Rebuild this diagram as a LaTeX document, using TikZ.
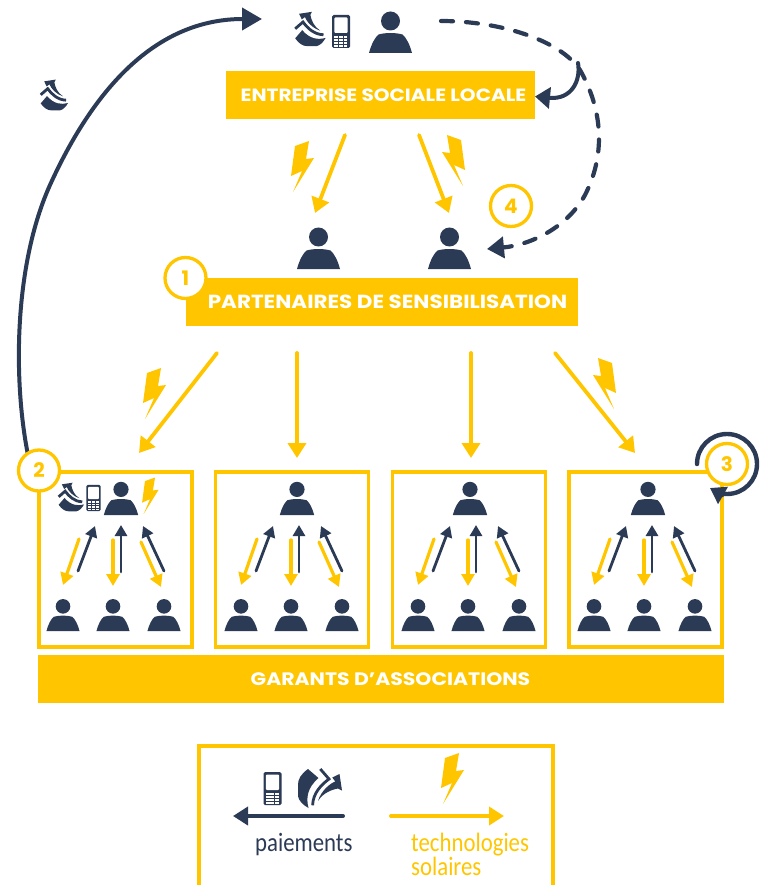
\documentclass[tikz,border=0pt]{standalone}
\usepackage{fontspec}
\setmainfont{Poppins}
\newfontfamily\legendfont[FakeStretch=0.86]{Carlito}
\newfontfamily\barfont[FakeStretch=1.135]{Poppins}
\usetikzlibrary{arrows.meta}
\definecolor{sun}{RGB}{255,198,0}
\definecolor{ink}{RGB}{43,58,85}
\tikzset{
  x=1pt,y=-1pt,
  personicon/.pic={
    \fill[ink] (0,-32) circle[radius=9.5];
    \fill[ink] (-21.5,0) .. controls (-19,-9) and (-16,-15) .. (-12,-18.5) .. controls (-5,-20.5) and (5,-20.5) .. (12,-18.5) .. controls (16,-15) and (19,-9) .. (21.5,0) -- cycle;
  },
  phoneicon/.pic={
    \fill[ink,rounded corners=1.5pt] (-9,-16.5) rectangle (9,16.5);
    \fill[white,rounded corners=1pt] (-6.7,-14) rectangle (6.7,1.5);
    \foreach \c in {-6.7,-2.1,2.5}{\foreach \r in {4.2,7.2,10.2,13.2}{
      \fill[white] (\c,\r) rectangle ++(3.9,1.9);}}
  },
  bolticon/.pic={
    \fill[sun] (7,-25) -- (-7,-20) -- (-11,10) -- (0,5) -- (-9,26) -- (12,-8) -- (4,-7) -- cycle;
  },
  moneyicon/.pic={
    \begin{scope}[shift={(-22,-20)}]
    \fill[ink] (10,1) .. controls (3,6) and (0,11) .. (0,16.7) -- (0,28.3) .. controls (1,33) and (5,37) .. (10.5,40) .. controls (8,30) and (9,20) .. (20.5,10) -- cycle;
    \draw[ink,line width=2.8pt] (14.6,37.3) .. controls (15,25) and (23.3,16.7) .. (31,11) -- (22.3,1);
    \fill[ink] (20,33) .. controls (23,23) and (31.7,15.5) .. (37.3,13.5) -- (34.3,9.5) -- (41.5,6) -- (44,22.5) -- (40,20.5) .. controls (33.3,21.7) and (25,25) .. (20,33) -- cycle;
    \end{scope}
  },
  barbox/.style={fill=sun,inner sep=0pt},
  barlabel/.style={text=white,inner sep=0pt},
  numring/.style={circle,draw=sun,fill=white,line width=3.3pt,minimum size=41pt,inner sep=0pt,text=sun,font=\bfseries\fontsize{20}{20}\selectfont},
  frameline/.style={draw=sun,line width=3.4pt},
  bigsun/.style={draw=sun,line width=3.8pt,line cap=round,-{Triangle[length=15pt,width=18pt]}},
  smallsun/.style={draw=sun,line width=3.2pt,line cap=round,-{Triangle[length=12pt,width=13pt]}},
  smallink/.style={draw=ink,line width=2.8pt,line cap=round,-{Triangle[length=11pt,width=12pt]}},
  inkflow/.style={draw=ink,line width=4pt,-{Triangle[length=20pt,width=22pt]}},
  legendtext/.style={font=\legendfont\fontsize{26.5}{27}\selectfont,inner sep=0pt,anchor=base west},
}
\begin{document}
\begin{tikzpicture}
\useasboundingbox (0,0) rectangle (762,885);

% named ends of the main connectors
\coordinate (flowstart) at (28,455);
\coordinate (flowend) at (262,19);
\coordinate (dashstart) at (441,21);
\coordinate (dashmid) at (578,63);
\coordinate (dashend) at (487,249);
\coordinate (ese1) at (345,135);
\coordinate (ese2) at (419,135);
\coordinate (par1) at (315,213);
\coordinate (par2) at (449,213);
\coordinate (ps1) at (217,353);
\coordinate (ps2) at (297,353);
\coordinate (ps3) at (471,353);
\coordinate (ps4) at (555,353);
\coordinate (pe1) at (139,453);
\coordinate (pe2) at (297,458);
\coordinate (pe3) at (471,458);
\coordinate (pe4) at (635,453);
\coordinate (ring3a) at (697,464);
\coordinate (ring3b) at (710,488);
\coordinate (legl1) at (343,816);
\coordinate (legl2) at (233,816);
\coordinate (legr1) at (391,816);
\coordinate (legr2) at (504,816);

% long payment curve
\draw[inkflow] (flowstart) .. controls (13,380) and (14,265) .. (50,185) .. controls (100,75) and (165,19) .. (flowend);

% top group
\pic[rotate=90,scale=.78] at (310,29) {moneyicon};
\pic at (341,31.5) {phoneicon};
\pic at (390.5,53) {personicon};
\node[barbox,minimum width=309pt,minimum height=48pt] (esebar) at (380.5,95) {};
\node[barlabel,font=\barfont\bfseries\fontsize{17.7}{18}\selectfont] (esetext) at (383.5,95.5) {ENTREPRISE SOCIALE LOCALE};

% dashed return and short arc
\draw[ink,line width=4.2pt,line cap=round,dash pattern=on 12pt off 13pt,-{Triangle[length=17pt,width=21pt]}]
  (dashstart) .. controls (500,21) and (560,40) .. (580,70) .. controls (600,105) and (608,150) .. (585,195) .. controls (567,228) and (530,245) .. (dashend);
\draw[ink,line width=4pt,line cap=round,-{Triangle[length=15pt,width=21pt]}]
  (dashmid) .. controls (581,80) and (572,100) .. (535,96.5);

% upper yellow arrows
\draw[bigsun] (ese1) -- (par1);
\draw[bigsun] (ese2) -- (par2);
\pic at (302,166) {bolticon};
\pic[xscale=-1] at (454,160) {bolticon};

% partners
\pic at (318.5,269) {personicon};
\pic at (449.5,269) {personicon};
\node[barbox,minimum width=392pt,minimum height=48pt] (parbar) at (382,302) {};
\node[barlabel,font=\barfont\bfseries\fontsize{18.9}{18}\selectfont] (partext) at (387.5,302) {PARTENAIRES DE SENSIBILISATION};
\node[numring] (ringone) at (185.5,278) {1};
\node[numring] (ringfour) at (511,206) {4};

% arrows to the groups
\draw[bigsun] (ps1) -- (pe1);
\draw[bigsun] (ps2) -- (pe2);
\draw[bigsun] (ps3) -- (pe3);
\draw[bigsun] (ps4) -- (pe4);
\pic at (154,393) {bolticon};
\pic[xscale=-1] at (605,383) {bolticon};

% group frames
\node[frameline,minimum width=153pt,minimum height=175pt,inner sep=0pt] (frameone) at (115.5,559.5) {};
\node[frameline,minimum width=153pt,minimum height=175pt,inner sep=0pt] (frametwo) at (292,559.5) {};
\node[frameline,minimum width=153pt,minimum height=175pt,inner sep=0pt] (framethree) at (469,559.5) {};
\node[frameline,minimum width=153pt,minimum height=175pt,inner sep=0pt] (framefour) at (645.5,559.5) {};

% group contents
\foreach \off/\topoff/\id in {0/0/a,178/176/b,355/349/c,531/527/d}{
  \pic[scale=.8] at (121+\topoff,515) {personicon};
  \pic[scale=.77] at (63+\off,631) {personicon};
  \pic[scale=.77] at (113+\off,631) {personicon};
  \pic[scale=.77] at (164+\off,631) {personicon};
  \coordinate (\id ys1) at (79+\off,539);
  \coordinate (\id ye1) at (63+\off,585);
  \coordinate (\id ns1) at (78+\off,571);
  \coordinate (\id ne1) at (95+\off,526);
  \coordinate (\id ys2) at (113+\off,540);
  \coordinate (\id ye2) at (113+\off,586);
  \coordinate (\id ns2) at (121+\off,572);
  \coordinate (\id ne2) at (121+\off,525);
  \coordinate (\id ys3) at (141+\off,542);
  \coordinate (\id ye3) at (161+\off,587);
  \coordinate (\id ns3) at (164+\off,571);
  \coordinate (\id ne3) at (143+\off,526);
  \draw[smallsun] (\id ys1) -- (\id ye1);
  \draw[smallink] (\id ns1) -- (\id ne1);
  \draw[smallsun] (\id ys2) -- (\id ye2);
  \draw[smallink] (\id ns2) -- (\id ne2);
  \draw[smallsun] (\id ys3) -- (\id ye3);
  \draw[smallink] (\id ns3) -- (\id ne3);
}
\pic[rotate=90,scale=.65] at (71,497) {moneyicon};
\pic[scale=.8] at (93.5,498) {phoneicon};
\pic[scale=.72] at (150,495.5) {bolticon};
\pic[rotate=90,scale=.7] at (54,95) {moneyicon};

\node[numring] (ringtwo) at (39,470.5) {2};
\node[numring] (ringthree) at (727,464) {3};
\draw[ink,line width=4.4pt,line cap=round,-{Triangle[length=15pt,width=19pt]}]
  (ring3a) .. controls (697,447.4) and (710.4,434) .. (727,434) .. controls (743.6,434) and (757,447.4) .. (757,464) .. controls (757,480.6) and (743.6,494) .. (727,494) .. controls (722,494) and (717,492) .. (ring3b);

% bottom bar
\node[barbox,minimum width=686pt,minimum height=48pt] (garbar) at (381,679) {};
\node[barlabel,font=\barfont\bfseries\fontsize{18}{18}\selectfont] (gartext) at (390.5,679) {GARANTS D’ASSOCIATIONS};

% legend
\draw[sun,line width=4pt] (199,890) -- (199,745.5) -- (553,745.5) -- (553,890);
\pic at (272.5,788.5) {phoneicon};
\pic at (320,788) {moneyicon};
\pic at (452,778) {bolticon};
\draw[ink,line width=4pt,line cap=round,-{Triangle[length=15pt,width=18pt]}] (legl1) -- (legl2);
\draw[sun,line width=4pt,line cap=round,-{Triangle[length=15pt,width=18pt]}] (legr1) -- (legr2);
\node[legendtext,text=ink] (legpay) at (255,851) {paiements};
\node[legendtext,text=sun] (legtech) at (411,851) {technologies};
\node[legendtext,text=sun] (legsol) at (411,875) {solaires};
\end{tikzpicture}
\end{document}
